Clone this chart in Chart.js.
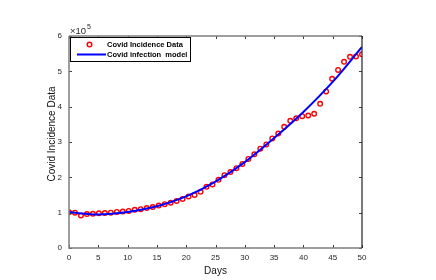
<!DOCTYPE html>
<html>
<head>
<meta charset="utf-8">
<script src="https://cdn.jsdelivr.net/npm/chart.js@4.4.0/dist/chart.umd.min.js"></script>
<style>
  html, body { margin: 0; padding: 0; background: #fff; }
  #wrap { width: 436px; height: 280px; position: relative; }
</style>
</head>
<body>
<div id="wrap"><canvas id="myChart"></canvas></div>
<script>
// observed data (50 samples over days 0..50)
const days = [0, 1.02, 2.04, 3.06, 4.08, 5.1, 6.12, 7.14, 8.16, 9.18,
  10.2, 11.22, 12.24, 13.27, 14.29, 15.31, 16.33, 17.35, 18.37, 19.39,
  20.41, 21.43, 22.45, 23.47, 24.49, 25.51, 26.53, 27.55, 28.57, 29.59,
  30.61, 31.63, 32.65, 33.67, 34.69, 35.71, 36.73, 37.76, 38.78, 39.8,
  40.82, 41.84, 42.86, 43.88, 44.9, 45.92, 46.94, 47.96, 48.98, 50];
const incidence = [101000, 100000, 92000, 96000, 97000, 98000, 99000, 100000, 102000, 103000,
  105000, 108000, 110000, 113000, 116000, 120000, 124000, 128000, 133000, 139000,
  146000, 150000, 159000, 173000, 180000, 193000, 206000, 215000, 226000, 238000,
  252000, 265000, 281000, 293000, 310000, 324000, 343000, 360000, 367000, 373000,
  375000, 380000, 408000, 443000, 479000, 504000, 527000, 541000, 542000, 548000];

// model curve
const modelDays = [0, 5, 10, 15, 20, 25, 30, 35, 40, 45, 50];
const modelVals = [101000, 95000, 102000, 118000, 146000, 188000, 243000, 311000, 385000, 470000, 569000];

const xTicks = [0, 5, 10, 15, 20, 25, 30, 35, 40, 45, 50];
const yTicks = [0, 1, 2, 3, 4, 5, 6];
const seriesNames = ['Covid Incidence Data', 'Covid infection  model'];

const FONT = '"Liberation Sans", Arial, Helvetica, sans-serif';

// axes box, inward ticks, titles, exponent and legend
const decor = {
  id: 'decor',
  afterDraw(chart) {
    const { ctx, chartArea: a, scales } = chart;
    const x = scales.x, y = scales.y;
    ctx.save();
    // ticks inward
    ctx.strokeStyle = '#404040';
    ctx.lineWidth = 1;
    ctx.beginPath();
    xTicks.forEach(t => {
      const px = Math.round(x.getPixelForValue(t)) + 0.5;
      ctx.moveTo(px, a.bottom); ctx.lineTo(px, a.bottom - 3);
      ctx.moveTo(px, a.top); ctx.lineTo(px, a.top + 3);
    });
    yTicks.forEach(t => {
      const py = Math.round(y.getPixelForValue(t * 1e5)) + 0.5;
      ctx.moveTo(a.left, py); ctx.lineTo(a.left + 3, py);
      ctx.moveTo(a.right, py); ctx.lineTo(a.right - 3, py);
    });
    ctx.stroke();
    // box
    ctx.strokeStyle = '#7f7f7f';
    ctx.lineWidth = 1.5;
    ctx.beginPath();
    ctx.moveTo(a.left, a.top); ctx.lineTo(a.right, a.top);
    ctx.moveTo(a.left, a.top); ctx.lineTo(a.left, a.bottom);
    ctx.lineTo(a.right, a.bottom);
    ctx.stroke();
    ctx.strokeStyle = '#222';
    ctx.lineWidth = 1.2;
    ctx.beginPath();
    ctx.moveTo(a.right, a.top); ctx.lineTo(a.right, a.bottom);
    ctx.stroke();

    // exponent label
    ctx.fillStyle = '#262626';
    ctx.font = '9.5px ' + FONT;
    ctx.textAlign = 'left';
    ctx.textBaseline = 'alphabetic';
    ctx.fillText('\u00d710', a.left + 1, a.top - 2);
    ctx.font = '7px ' + FONT;
    ctx.fillText('5', a.left + 18, a.top - 7);

    // axis titles
    ctx.fillStyle = '#111';
    ctx.font = '10px ' + FONT;
    ctx.textAlign = 'center';
    ctx.textBaseline = 'middle';
    ctx.fillText('Days', (a.left + a.right) / 2, 271);
    ctx.save();
    ctx.translate(52, 134);
    ctx.rotate(-Math.PI / 2);
    ctx.fillText('Covid Incidence Data', 0, 0);
    ctx.restore();

    // legend
    const lx = 70.5, ly = 37.5, lw = 120, lh = 24;
    ctx.fillStyle = '#fff';
    ctx.fillRect(lx, ly, lw, lh);
    ctx.strokeStyle = '#000';
    ctx.lineWidth = 1;
    ctx.strokeRect(lx, ly, lw, lh);
    ctx.strokeStyle = '#ff0000';
    ctx.lineWidth = 1.4;
    ctx.beginPath();
    ctx.arc(89.5, 44.5, 2.3, 0, Math.PI * 2);
    ctx.stroke();
    ctx.strokeStyle = '#0000ff';
    ctx.lineWidth = 2;
    ctx.beginPath();
    ctx.moveTo(77, 54.5); ctx.lineTo(106, 54.5);
    ctx.stroke();
    ctx.fillStyle = '#000';
    ctx.font = 'bold 7.5px ' + FONT;
    ctx.textAlign = 'left';
    ctx.textBaseline = 'middle';
    ctx.fillText(seriesNames[0], 107, 44.5);
    ctx.fillText(seriesNames[1], 107, 54.5);
    ctx.restore();
  }
};

new Chart(document.getElementById('myChart'), {
  type: 'scatter',
  data: {
    datasets: [
      {
        label: seriesNames[0],
        data: days.map((d, i) => ({ x: d, y: incidence[i] })),
        showLine: false,
        pointStyle: 'circle',
        pointRadius: 2.3,
        pointBorderWidth: 1.4,
        pointBorderColor: '#ff0000',
        pointBackgroundColor: 'rgba(0,0,0,0)',
        order: 2
      },
      {
        label: seriesNames[1],
        data: modelDays.map((d, i) => ({ x: d, y: modelVals[i] })),
        showLine: true,
        borderColor: '#0000ff',
        borderWidth: 2,
        pointRadius: 0,
        cubicInterpolationMode: 'monotone',
        fill: false,
        order: 1
      }
    ]
  },
  options: {
    responsive: true,
    maintainAspectRatio: false,
    animation: false,
    events: [],
    layout: { padding: { left: 0, right: 74, top: 36, bottom: 0 } },
    plugins: { legend: { display: false }, tooltip: { enabled: false } },
    scales: {
      x: {
        type: 'linear',
        min: 0, max: 50,
        afterFit(s) { s.height = 32; },
        afterBuildTicks(s) { s.ticks = xTicks.map(v => ({ value: v })); },
        grid: { display: false, drawTicks: false, tickLength: 0 },
        border: { display: false },
        ticks: { color: '#262626', font: { size: 8, family: FONT }, padding: 5, maxRotation: 0, autoSkip: false }
      },
      y: {
        min: 0, max: 600000,
        afterFit(s) { s.width = 69; },
        afterBuildTicks(s) { s.ticks = yTicks.map(v => ({ value: v * 1e5 })); },
        grid: { display: false, drawTicks: false, tickLength: 0 },
        border: { display: false },
        ticks: {
          color: '#262626', font: { size: 8, family: FONT }, padding: 7, autoSkip: false,
          callback: v => String(v / 1e5)
        }
      }
    }
  },
  plugins: [decor]
});
</script>
</body>
</html>
